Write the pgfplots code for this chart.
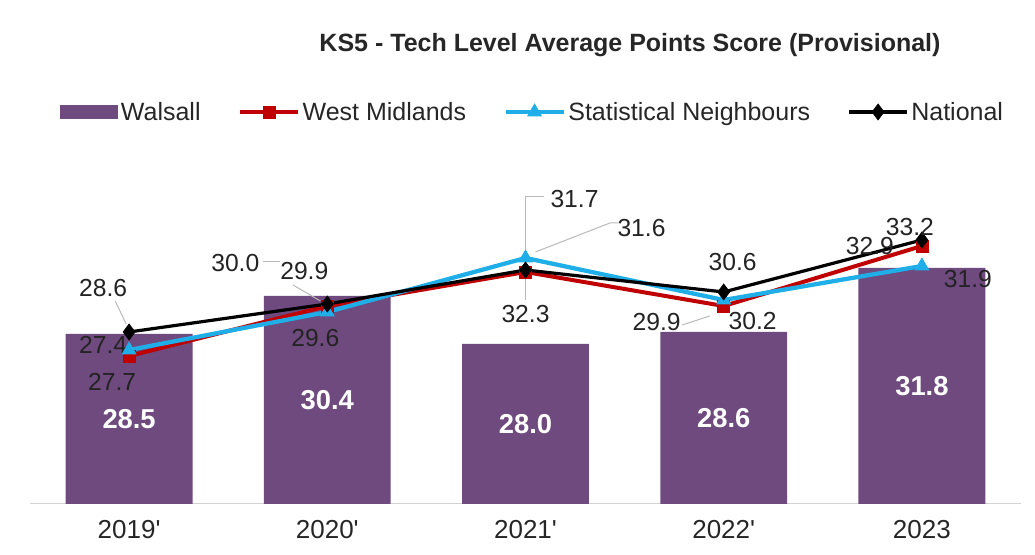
\documentclass[border=0pt]{standalone}
\usepackage{pgfplots}
\pgfplotsset{compat=1.18}
\usepackage{pgfplotstable}
\usepackage{fontspec}
\setmainfont{Liberation Sans}
\definecolor{walsall}{RGB}{110,74,126}
\definecolor{wm}{RGB}{192,0,0}
\definecolor{sn}{RGB}{32,174,232}
\definecolor{axisgrey}{RGB}{210,210,210}
\definecolor{leader}{RGB}{185,185,185}
\definecolor{lbl}{RGB}{35,35,35}

\pgfplotstableread{
x y
0 28.5
1 30.4
2 28.0
3 28.6
4 31.8
}\walsalltab
\pgfplotstableread{
x y lx ly
0 27.4 -19.5 8.25
1 29.9 -17.25 26.25
2 31.6 87 33
3 29.9 -50.25 -12
4 32.9 -39 0
}\wmtab
\pgfplotstableread{
x y lx ly
0 27.7 -12.75 -24
1 29.6 -9 -19.5
2 32.3 0 -42
3 30.2 21.75 -15.75
4 31.9 34.5 -9.75
}\sntab
\pgfplotstableread{
x y lx ly
0 28.6 -19.5 33
1 30.0 -69 30.75
2 31.7 36.75 53.25
3 30.6 6.75 22.5
4 33.2 -9 10
}\nattab

\pgfplotsset{
  linelabels/.style={
    nodes near coords={\pgfmathprintnumber[fixed,fixed zerofill,precision=1]{\pgfplotspointmeta}},
    visualization depends on={\thisrow{lx} \as \labx},
    visualization depends on={\thisrow{ly} \as \laby},
    every node near coord/.append style={anchor=center, text=lbl, inner sep=0pt,
      font=\fontsize{18.5}{22}\selectfont, xshift=\labx pt, yshift=\laby pt},
  },
}

\begin{document}
\begin{tikzpicture}
\useasboundingbox (0,0) rectangle (776.25pt,416.25pt);
\begin{axis}[
  at={(22.5pt,38.25pt)}, anchor=south west,
  scale only axis, width=743.25pt, height=240pt,
  xmin=-0.5, xmax=4.5, ymin=20, ymax=36,
  axis x line*=bottom, axis y line=none,
  x axis line style={draw=axisgrey, line width=0.75pt, -},
  xtick={0,1,2,3,4},
  xticklabels={2019\textquotesingle, 2020\textquotesingle, 2021\textquotesingle, 2022\textquotesingle, 2023},
  xticklabel style={anchor=center, yshift=-19.5pt, font=\fontsize{19.5}{22}\selectfont, text=black!85},
  major tick length=0pt,
  ytick=\empty,
  /pgf/number format/assume math mode=true,
  legend columns=4,
  legend cell align=left,
  legend style={at={(0.0303,1.225)}, anchor=west, draw=none, fill=none, inner sep=0pt,
    font=\fontsize{18.75}{22}\selectfont, text=black!85,
    nodes={inner xsep=2pt, inner ysep=1pt},
    /tikz/every even column/.append style={column sep=26pt}},
  legend image code/.code={\draw[mark repeat=2,mark phase=2,#1] plot coordinates {(0pt,0pt) (21.75pt,0pt) (43.5pt,0pt)};},
]
\addplot[ybar, bar width=0.64, fill=walsall, draw=none,
  legend image code/.code={\fill[walsall] (0pt,-4.9pt) rectangle (43.5pt,4.9pt);},
  nodes near coords={\pgfmathprintnumber[fixed,fixed zerofill,precision=1]{\pgfplotspointmeta}},
  visualization depends on={rawy \as \rawy},
  every node near coord/.append style={anchor=center, text=white, inner sep=0pt,
    font=\fontsize{20.5}{24}\selectfont\bfseries, yshift=-(\rawy-20)*7.5pt},
] table[x=x,y=y]{\walsalltab};
\addlegendentry{Walsall}
% leader lines of the data labels
\draw[leader, line width=0.75pt] (axis cs:-0.07,30.15) -- (axis cs:-0.015,29.0);
\draw[leader, line width=0.75pt] (axis cs:0.676,32.1) -- (axis cs:0.761,32.1);
\draw[leader, line width=0.75pt] (axis cs:0.827,30.95) -- (axis cs:0.965,30.15);
\draw[leader, line width=0.75pt] (axis cs:2.0,32.0) -- (axis cs:2.0,35.35) -- (axis cs:2.093,35.35);
\draw[leader, line width=0.75pt] (axis cs:2.0,31.3) -- (axis cs:2.0,30.2);
\draw[leader, line width=0.75pt] (axis cs:2.05,32.6) -- (axis cs:2.426,34.05) -- (axis cs:2.467,34.05);
\draw[leader, line width=0.75pt] (axis cs:2.79,28.95) -- (axis cs:2.93,29.4);
\addplot[wm, line width=3pt, mark=square*, mark size=4.5pt,
  mark options={solid, fill=wm, draw=wm, line width=0.5pt}, linelabels]
  table[x=x,y=y]{\wmtab};
\addlegendentry{West Midlands}
\addplot[sn, line width=3.2pt, mark=triangle*, mark size=6pt,
  mark options={solid, fill=sn, draw=sn, line width=0.5pt}, linelabels]
  table[x=x,y=y]{\sntab};
\addlegendentry{Statistical Neighbours}
\addplot[black, line width=2.4pt, mark=diamond*, mark size=6pt,
  mark options={solid, fill=black, draw=black, line width=0.5pt}, linelabels]
  table[x=x,y=y]{\nattab};
\addlegendentry{National}
\end{axis}
\node[font=\fontsize{18.75}{22}\selectfont\bfseries, text=black!85] at (472.5pt,382.5pt)
  {KS5 - Tech Level Average Points Score (Provisional)};
\end{tikzpicture}
\end{document}
